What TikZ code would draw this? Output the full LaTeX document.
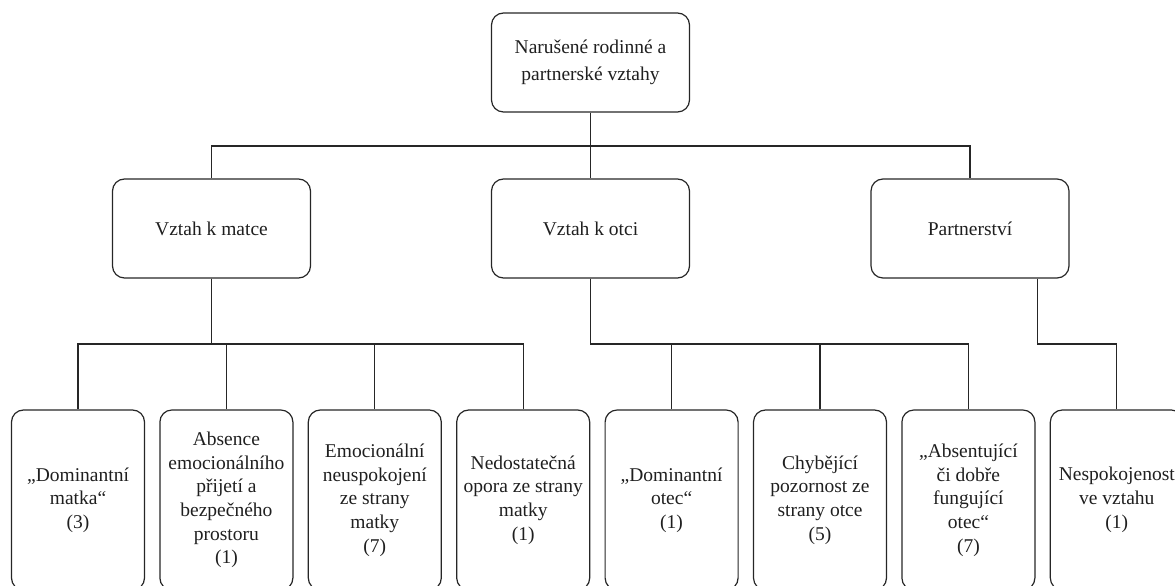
\documentclass[tikz,border=0pt]{standalone}
\usepackage{fontspec}
\setmainfont{Liberation Serif}
\usetikzlibrary{positioning}

\begin{document}
\begin{tikzpicture}[x=1pt,y=1pt]
   \tikzstyle{every node}=[font=\fontsize{19.5}{23.7}\selectfont, text=black!88]
   \tikzstyle{box}=[draw=black!85, line width=1.2pt, rounded corners=12pt, align=center, inner sep=0pt]
   \tikzstyle{topbox}=[box, minimum width=198pt, minimum height=99pt, font=\fontsize{19.5}{26.5}\selectfont]
   \tikzstyle{leafbox}=[box, minimum width=133pt, minimum height=180pt]
   \tikzstyle{link}=[draw=black!85, line width=1.2pt]

   \useasboundingbox (0,0) rectangle (1175,586);

\node[topbox] (root) at (590.5,523.5) {Narušené rodinné a\\partnerské vztahy};

\node[topbox] (matce)   at (211.5,357.5) {Vztah k matce};
\node[topbox] (otec)    at (590.5,357.5) {Vztah k otci};
\node[topbox] (partner) at (970,357.5)   {Partnerství};

\node[leafbox] (m1) at (78,86) {„Dominantní\\matka“\\(3)};
\node[leafbox, right=14.2pt of m1] (m2) {Absence\\emocionálního\\přijetí a\\bezpečného\\prostoru\\(1)};
\node[leafbox, right=14.2pt of m2] (m3) {Emocionální\\neuspokojení\\ze strany\\matky\\(7)};
\node[leafbox, right=14.2pt of m3] (m4) {Nedostatečná\\opora ze strany\\matky\\(1)};
\node[leafbox, right=14.2pt of m4] (o1) {„Dominantní\\otec“\\(1)};
\node[leafbox, right=14.2pt of o1] (o2) {Chybějící\\pozornost ze\\strany otce\\(5)};
\node[leafbox, right=14.2pt of o2] (o3) {„Absentující\\či dobře\\fungující\\otec“\\(7)};
\node[leafbox, right=14.2pt of o3] (p1) {Nespokojenost\\ve vztahu\\(1)};

\coordinate (bar1) at (0,440);
\coordinate (bar2) at (0,242);
\coordinate (pdrop) at ([xshift=-32pt]partner.south east);

% first level
\draw[link] (root.south) -- (otec.north);
\draw[link] (matce.north) |- (partner.north |- bar1) -- (partner.north);

% second level
\foreach \c in {m1,m2,m3,m4}
   \draw[link] (matce.south) |- (\c.north |- bar2) -- (\c.north);
\foreach \c in {o1,o2,o3}
   \draw[link] (otec.south) |- (\c.north |- bar2) -- (\c.north);
\draw[link] (pdrop) |- (p1.north |- bar2) -- (p1.north);

\end{tikzpicture}
\end{document}
